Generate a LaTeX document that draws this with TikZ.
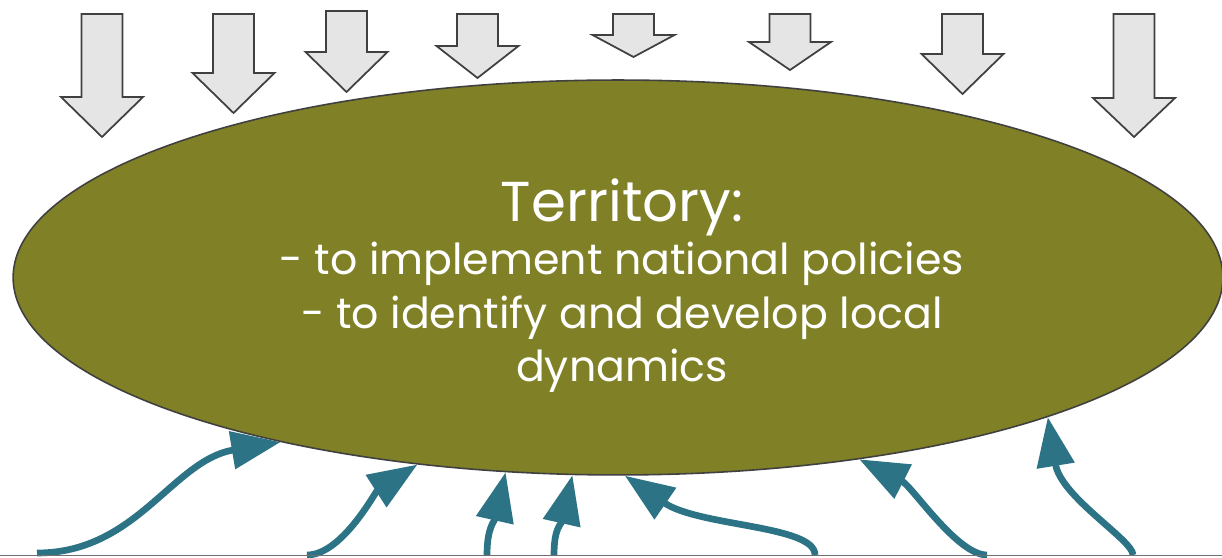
\documentclass[tikz,border=0pt]{standalone}
\usepackage{fontspec}
\setmainfont{Poppins}
\usetikzlibrary{shapes.geometric,arrows.meta}
\definecolor{terrolive}{RGB}{128,128,38}
\definecolor{terredge}{RGB}{64,64,64}
\definecolor{blockgray}{RGB}{229,229,229}
\definecolor{flowteal}{RGB}{44,115,133}
\definecolor{rulegray}{RGB}{112,112,112}
\tikzset{
  downblock/.style={draw=terredge,fill=blockgray,line width=1pt,line join=miter},
  inflow/.style={draw=flowteal,line width=3.8pt,-{Triangle[length=28pt,width=21pt]}},
}

\begin{document}
\begin{tikzpicture}[x=0.02cm,y=0.02cm]
\useasboundingbox (0,0) rectangle (1222,557);

\node [ellipse,draw=terredge,fill=terrolive,line width=0.9pt,minimum width=24.2cm,minimum height=7.9cm] (terr) at (618,279.5) {};
\node [text=white,align=center,font=\fontsize{24.3}{30.5}\selectfont] (terrtext) at (622,271.5)
{{\fontsize{32}{30}\selectfont Territory:}\\
- to implement national policies\\
- to identify and develop local\\
dynamics};

\foreach \x/\ytop/\yneck/\ytip in {102/543/460/420, 233.5/543/484/444, 346.5/546/505/465, 477.5/543/511/479,
                                  633.5/543/522/500, 790/543/515/487, 962.5/543/503/463, 1134/543/459/420}
  \draw[downblock] (\x-20.5,\ytop) -- (\x+20.5,\ytop) -- (\x+20.5,\yneck) -- (\x+41,\yneck)
    -- (\x,\ytip) -- (\x-41,\yneck) -- (\x-20.5,\yneck) -- cycle;

\coordinate (s1) at (37,4);
\coordinate (s2) at (307,2);
\coordinate (s3) at (487,2);
\coordinate (s4) at (554,2);
\coordinate (s5) at (815,2);
\coordinate (s6) at (987,2);
\coordinate (s7) at (1133,2);

\draw[inflow] (s1) .. controls +(100,0) and +(-108,-18) .. (terr.206);
\draw[inflow] (s2) .. controls +(35,0) and +(-42,-27) .. (terr.223);
\draw[inflow] (s3) .. controls +(0,28) and +(-11,-49) .. (terr.240);
\draw[inflow] (s4) .. controls +(0,28) and +(-11,-49) .. (terr.257);
\draw[inflow] (s5) .. controls +(0,30) and +(74,-51) .. (terr.272);
\draw[inflow] (s6) .. controls +(-30,0) and +(53,-27) .. (terr.323);
\draw[inflow] (s7) .. controls +(0,15) and +(13,-80) .. (terr.342);

\draw[rulegray,line width=0.8pt] (0,1.5) -- (1222,1.5);
\end{tikzpicture}
\end{document}
